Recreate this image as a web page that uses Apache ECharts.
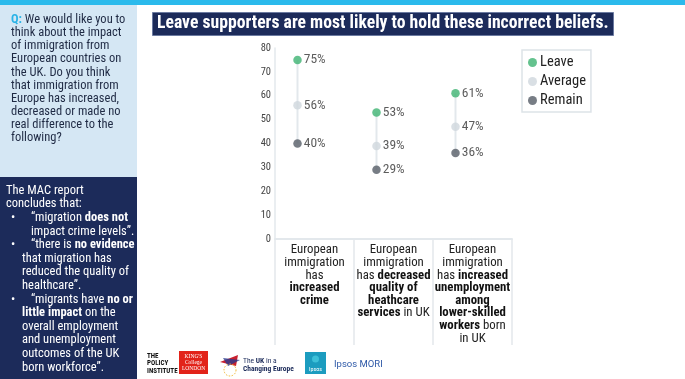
<!DOCTYPE html>
<html><head><meta charset="utf-8">
<script src="https://cdn.jsdelivr.net/npm/echarts@6/dist/echarts.min.js"></script>
<style>html,body{margin:0;padding:0;background:#fff}#c{width:685px;height:379px}</style>
</head><body><div id="c"></div>
<script>
const categories = ['European immigration has increased crime', 'European immigration has decreased quality of heathcare services in UK', 'European immigration has increased unemployment among lower-skilled workers born in UK'];
const categoryLabels = [
  'European\nimmigration\nhas\n{b|increased}\n{b|crime}',
  'European\nimmigration\nhas {b|decreased}\n{b|quality of}\n{b|heathcare}\n{b|services} in UK',
  'European\nimmigration\nhas {b|increased}\n{b|unemployment}\n{b|among}\n{b|lower-skilled}\n{b|workers} born\nin UK'
];
const leave = [75, 53, 61];
const average = [56, 39, 47];
const remain = [40, 29, 36];
const yTicks = [0, 10, 20, 30, 40, 50, 60, 70, 80];

const questionText = '{q|Q:} We would like you to\nthink about the impact\nof immigration from\nEuropean countries on\nthe UK. Do you think\nthat immigration from\nEurope has increased,\ndecreased or made no\nreal difference to the\nfollowing?';
// [indent type, text] : 'h' heading, 'b' bullet first line, 'c' continuation
const macLines = [
  ['h', 'The MAC report'],
  ['h', 'concludes that:'],
  ['b', '“migration {b|does not}'],
  ['b2', 'impact crime levels”.'],
  ['b', '“there is {b|no evidence}'],
  ['c', 'that migration has'],
  ['c', 'reduced the quality of'],
  ['c', 'healthcare”.'],
  ['b', '“migrants have {b|no or}'],
  ['c', '{b|little impact} on the'],
  ['c', 'overall employment'],
  ['c', 'and unemployment'],
  ['c', 'outcomes of the UK'],
  ['c', 'born workforce”.']
];

const FONT = "'Roboto Condensed', sans-serif";
const NAVY = '#1c2b5a';
const DOT_SHIFT = -17;

const chart = echarts.init(document.getElementById('c'), null, {renderer: 'canvas'});

function dotSeries(name, data, color) {
  return {
    name, type: 'scatter', data, z: 5,
    symbol: 'circle', symbolSize: 8.5, symbolOffset: [DOT_SHIFT, 0],
    itemStyle: {color},
    label: {show: true, position: 'right', distance: 2,
      formatter: p => p.value + '%', fontFamily: FONT, fontSize: 13.5, color: '#333'}
  };
}

const macGraphics = [];
const MAC_TOP = 183.9, MAC_LH = 13.6;
const indentX = {h: 6, b: 31, b2: 31, c: 22};
macLines.forEach(([kind, txt], i) => {
  const top = MAC_TOP + i * MAC_LH;
  if (kind === 'b') {
    macGraphics.push({type: 'text', left: 11, top, style: {text: '•', fontFamily: FONT, fontSize: 12.5, lineHeight: MAC_LH, fill: '#fff'}});
  }
  macGraphics.push({type: 'text', left: indentX[kind], top, style: {
    text: txt, fontFamily: FONT, fontSize: 12.5, lineHeight: MAC_LH, fill: '#fff',
    rich: {b: {fontFamily: FONT, fontSize: 12.5, lineHeight: MAC_LH, fontWeight: 'bold', fill: '#fff'}}
  }});
});

const option = {
  animation: false,
  backgroundColor: '#fff',
  grid: {left: 275, right: 173, top: 48, bottom: 140, containLabel: false},
  legend: {
    orient: 'vertical', left: 522, top: 50,
    padding: [5, 5, 4, 6], borderColor: '#dde3e8', borderWidth: 1.5,
    itemWidth: 9, itemHeight: 9, itemGap: 4, icon: 'circle',
    textStyle: {fontFamily: FONT, fontSize: 14.5, color: '#222', padding: [0, 0, 0, -2]},
    data: ['Leave', 'Average', 'Remain']
  },
  xAxis: {
    type: 'category', data: categories, boundaryGap: true,
    axisLine: {lineStyle: {color: '#e3e8ec', width: 2}},
    axisTick: {show: true, length: 106, lineStyle: {color: '#e3e8ec', width: 1.5}, alignWithLabel: false},
    axisLabel: {
      interval: 0, margin: 5, fontFamily: FONT, fontSize: 12.8, lineHeight: 12.6, color: '#222', align: 'center',
      formatter: (v, i) => categoryLabels[i],
      rich: {b: {fontFamily: FONT, fontSize: 12.8, lineHeight: 12.6, fontWeight: 'bold', color: '#111'}}
    }
  },
  yAxis: {
    type: 'value', min: yTicks[0], max: yTicks[yTicks.length - 1], interval: 10,
    axisLine: {show: true, lineStyle: {color: '#e3e8ec', width: 1.5}},
    axisTick: {show: false},
    splitLine: {show: false},
    axisLabel: {fontFamily: FONT, fontSize: 10.5, color: '#444', margin: 4}
  },
  series: [
    {
      type: 'custom', z: 2, silent: true,
      data: categories.map((c, i) => [i, Math.min(leave[i], average[i], remain[i]), Math.max(leave[i], average[i], remain[i])]),
      renderItem: (params, api) => {
        const a = api.coord([api.value(0), api.value(1)]);
        const b = api.coord([api.value(0), api.value(2)]);
        return {type: 'line', shape: {x1: a[0] + DOT_SHIFT, y1: a[1], x2: b[0] + DOT_SHIFT, y2: b[1]},
          style: {stroke: '#e3e8ec', lineWidth: 2}};
      }
    },
    dotSeries('Leave', leave, '#3db372'),
    dotSeries('Average', average, '#d0d7dd'),
    dotSeries('Remain', remain, '#555d66')
  ],
  graphic: [
    {type: 'rect', left: 0, top: 0, shape: {width: 685, height: 5}, style: {fill: '#2bbaec'}, z: 10},
    {type: 'rect', left: 0, top: 5, shape: {width: 137, height: 172}, style: {fill: '#d5e7f4'}},
    {type: 'rect', left: 0, top: 177, shape: {width: 137, height: 202}, style: {fill: NAVY}},
    {type: 'text', left: 11, top: 13.5, style: {
      text: questionText,
      fontFamily: FONT, fontSize: 12.5, lineHeight: 13.1, fill: '#1f2a44',
      rich: {q: {fontFamily: FONT, fontSize: 12.5, lineHeight: 13.1, fontWeight: 'bold', fill: '#2bb3e6'}}
    }},
    ...macGraphics,
    {type: 'rect', left: 152, top: 12, shape: {width: 461, height: 23}, style: {fill: NAVY, stroke: '#6b7aa0', lineWidth: 1}},
    {type: 'text', x: 157, y: 14, scaleX: 0.93, style: {
      text: 'Leave supporters are most likely to hold these incorrect beliefs.',
      fontFamily: FONT, fontSize: 19, fontWeight: 'bold', fill: '#fff'
    }},
    {type: 'text', left: 147, top: 352, style: {
      text: 'THE\nPOLICY\nINSTITUTE', fontFamily: FONT, fontSize: 7, lineHeight: 7.5, fontWeight: 'bold', fill: '#111'
    }},
    {type: 'rect', left: 179, top: 351, shape: {width: 29, height: 23}, style: {fill: '#e2231a'}},
    {type: 'text', x: 193.5, y: 354, style: {
      text: "KING'S\nCollege\nLONDON", fontFamily: "'Liberation Serif', serif", fontSize: 5.5, lineHeight: 6, fill: '#fff', align: 'center'
    }},
    {type: 'polygon', shape: {points: [[220, 362], [238, 355], [236, 366]]}, style: {fill: '#c8202f'}},
    {type: 'polygon', shape: {points: [[223, 358], [240, 360], [228, 366]]}, style: {fill: '#2a3b8f', opacity: 0.8}},
    {type: 'circle', shape: {cx: 230, cy: 370, r: 6}, style: {fill: 'none', stroke: '#f2b62e', lineWidth: 1, lineDash: [1.5, 1.5]}},
    {type: 'text', left: 243, top: 357, style: {
      text: 'The {b|UK} in a\n{b|Changing Europe}', fontFamily: FONT, fontSize: 7.5, lineHeight: 8, fill: NAVY,
      rich: {b: {fontFamily: FONT, fontSize: 7.5, lineHeight: 8, fontWeight: 'bold', fill: NAVY}}
    }},
    {type: 'rect', left: 305, top: 352, shape: {width: 21, height: 22}, style: {fill: '#1c9cbf'}},
    {type: 'circle', shape: {cx: 315.5, cy: 359, r: 3.5}, style: {fill: '#3dc0d8'}},
    {type: 'text', x: 315.5, y: 366, style: {
      text: 'Ipsos', fontFamily: FONT, fontSize: 6, fill: '#fff', align: 'center'
    }},
    {type: 'text', left: 334, top: 360, style: {
      text: 'Ipsos MORI', fontFamily: "'Roboto', sans-serif", fontSize: 9.5, fill: '#2f5aa8'
    }}
  ]
};
chart.setOption(option);
</script>
</body></html>
